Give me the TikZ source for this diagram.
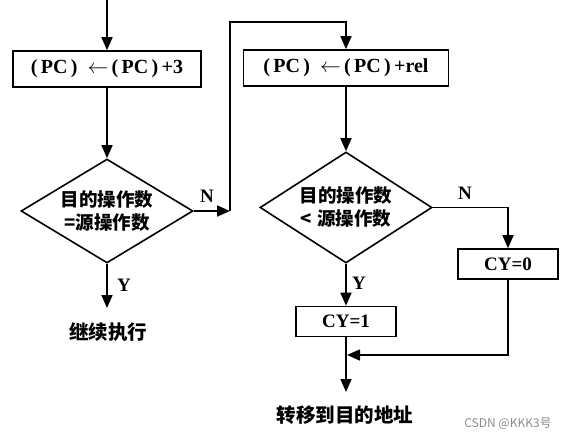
\documentclass[tikz,border=0pt]{standalone}
\usepackage{fontspec}
\setmainfont{Liberation Serif}
\newfontfamily\cjk{Noto Sans CJK SC}
\usetikzlibrary{arrows.meta,shapes.geometric}

\begin{document}
\begin{tikzpicture}[x=1pt,y=-1pt,line width=1.6pt,
    arr/.style={-{Triangle[length=13pt,width=11pt]}},
    box/.style={draw,minimum height=36pt,inner sep=0pt,font=\fontsize{20}{24}\selectfont\bfseries},
    flagbox/.style={draw,minimum width=100pt,minimum height=30pt,inner sep=0pt,font=\fontsize{19}{22}\selectfont\bfseries},
    test/.style={draw,diamond,inner sep=0pt,minimum width=172pt,align=center,font=\fontsize{18.5}{23}\selectfont\cjk\bfseries},
    yn/.style={inner sep=0pt,font=\fontsize{19}{22}\selectfont\bfseries},
    exit/.style={inner sep=0pt,font=\fontsize{19.5}{24}\selectfont\cjk\bfseries}]
    \useasboundingbox (0,0) rectangle (569,438);
    % left branch
    \coordinate (start) at (107,0);
    \node[box,minimum width=188pt] (inc) at (107,69)
        {(\,PC\,)\enspace$\leftarrow$\,(\,PC\,)\,+3};
    \node[test,aspect=1.65,minimum height=104pt] (eq) at (107,211) {目的操作数\\=源操作数};
    \coordinate (jn) at (230,211);
    \coordinate (up) at (230,22);
    \coordinate (stop) at (107,308);
    \node[exit] (cont) at (108,332) {继续执行};
    \node[yn] (eqN) at (207,196) {N};
    \node[yn] (eqY) at (124,285) {Y};
    % right branch
    \node[box,minimum width=205pt] (rel) at (346,68)
        {(\,PC\,)\enspace$\leftarrow$\,(\,PC\,)\,+rel};
    \node[test,aspect=1.55,minimum height=111pt] (lt) at (346,207.5) {目的操作数\\<\;源操作数};
    \node[flagbox] (cy0) at (508,264) {CY=0};
    \node[flagbox] (cy1) at (346,321.5) {CY=1};
    \coordinate (merge) at (347,355);
    \coordinate (end) at (346,392);
    \node[exit] (jump) at (345,415) {转移到目的地址};
    \node[yn] (ltN) at (465,193) {N};
    \node[yn] (ltY) at (359,283) {Y};
    \node[inner sep=0pt,text=black!45,font=\fontsize{12}{14}\selectfont\cjk] (mark) at (508,424) {CSDN @KKK3号};
    % connectors
    \draw[arr] (start) -- (inc);
    \draw[arr] (inc) -- (eq);
    \draw[arr] (eq.south) -- (stop);
    \draw[arr] (eq.east) -- (jn);
    \draw[arr] (jn) -- (up) -| (rel.north);
    \draw[arr] (rel) -- (lt);
    \draw[arr] (lt.east) -| (cy0.north);
    \draw[arr] (lt.south) -- (cy1.north);
    \draw[arr] (cy0.south) |- (merge);
    \draw[arr] (cy1.south) -- (end);
\end{tikzpicture}
\end{document}
